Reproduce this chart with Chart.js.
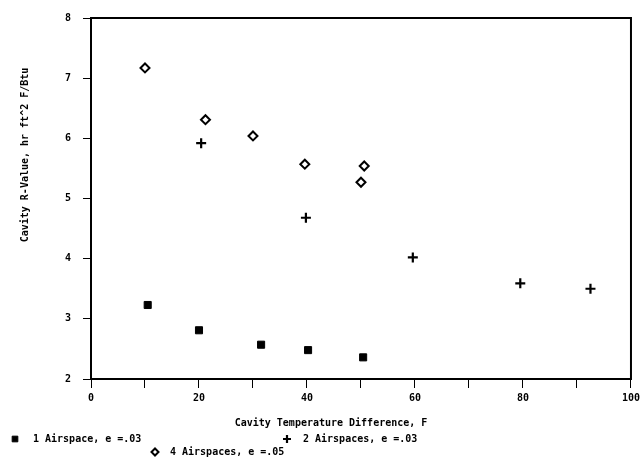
<!DOCTYPE html>
<html>
<head>
<meta charset="utf-8">
<script src="https://cdn.jsdelivr.net/npm/chart.js@4"></script>
<style>
  html, body { margin: 0; padding: 0; background: #fff; }
  #wrap { width: 644px; height: 464px; position: relative; }
</style>
</head>
<body>
<div id="wrap"><canvas id="rvalueChart"></canvas></div>
<script>
// --- data ---
const oneSpaceX = [10.5, 20.0, 31.5, 40.2, 50.4];
const oneSpaceY = [3.23, 2.81, 2.57, 2.48, 2.36];
const twoSpaceX = [20.4, 39.8, 59.6, 79.5, 92.5];
const twoSpaceY = [5.92, 4.68, 4.02, 3.59, 3.50];
const fourSpaceX = [10.0, 21.2, 30.0, 39.6, 50.6, 50.0];
const fourSpaceY = [7.17, 6.31, 6.04, 5.57, 5.54, 5.27];

const seriesLabels = ['1 Airspace, e =.03', '2 Airspaces, e =.03', '4 Airspaces, e =.05'];
const xTitle = 'Cavity Temperature Difference, F';
const yTitle = 'Cavity R-Value, hr ft^2 F/Btu';
const xRange = [0, 100];
const yRange = [2, 8];

const FONT = 'bold 10px "DejaVu Sans Mono", monospace';

function toPoints(xs, ys) {
      return xs.map((x, i) => ({ x: x, y: ys[i] }));
}

// marker looks, shared by the plot and the legend
const markers = [
      { pointStyle: 'rect', radius: 5, borderWidth: 1, borderColor: '#000', backgroundColor: '#000' },
      { pointStyle: 'cross', radius: 5, borderWidth: 2.2, borderColor: '#000', backgroundColor: '#000' },
      { pointStyle: 'rectRot', radius: 4.5, borderWidth: 2, borderColor: '#000', backgroundColor: '#fff' }
];

function makeDataset(label, xs, ys, m) {
      return {
            label: label,
            data: toPoints(xs, ys),
            pointStyle: m.pointStyle,
            pointRadius: m.radius,
            pointBorderWidth: m.borderWidth,
            pointBorderColor: m.borderColor,
            pointBackgroundColor: m.backgroundColor,
            showLine: false
      };
}

// frame, axis titles and the hand placed legend
const decorPlugin = {
      id: 'decor',
      afterDraw(chart) {
            const ctx = chart.ctx;
            const a = chart.chartArea;
            ctx.save();
            ctx.strokeStyle = '#000';
            ctx.lineWidth = 2;
            ctx.strokeRect(a.left, a.top, a.right - a.left, a.bottom - a.top);

            ctx.fillStyle = '#000';
            ctx.font = FONT;
            ctx.textBaseline = 'middle';

            // x title
            ctx.textAlign = 'center';
            ctx.fillText(xTitle, 331, 423);

            // y title (rotated)
            ctx.save();
            ctx.translate(25, 155);
            ctx.rotate(-Math.PI / 2);
            ctx.fillText(yTitle, 0, 0);
            ctx.restore();

            // legend
            const spots = [
                  { mx: 15, tx: 33, y: 439 },
                  { mx: 287, tx: 303, y: 439 },
                  { mx: 155, tx: 170, y: 452 }
            ];
            ctx.textAlign = 'left';
            spots.forEach((s, i) => {
                  const m = markers[i];
                  ctx.fillStyle = m.backgroundColor;
                  ctx.strokeStyle = m.borderColor;
                  ctx.lineWidth = m.borderWidth;
                  Chart.helpers.drawPoint(ctx, { pointStyle: m.pointStyle, radius: m.radius - 1, rotation: 0, borderWidth: m.borderWidth }, s.mx, s.y);
                  ctx.fillStyle = '#000';
                  ctx.fillText(seriesLabels[i], s.tx, s.y);
            });
            ctx.restore();
      }
};

const ctx = document.getElementById('rvalueChart').getContext('2d');

new Chart(ctx, {
      type: 'scatter',
      data: {
            datasets: [
                  makeDataset(seriesLabels[0], oneSpaceX, oneSpaceY, markers[0]),
                  makeDataset(seriesLabels[1], twoSpaceX, twoSpaceY, markers[1]),
                  makeDataset(seriesLabels[2], fourSpaceX, fourSpaceY, markers[2])
            ]
      },
      options: {
            responsive: true,
            maintainAspectRatio: false,
            animation: false,
            layout: { padding: { top: 17, right: 11, left: 0, bottom: 0 } },
            scales: {
                  x: {
                        type: 'linear',
                        min: xRange[0],
                        max: xRange[1],
                        afterFit(scale) { scale.height = 85; },
                        ticks: {
                              stepSize: 10,
                              padding: 4,
                              color: '#000',
                              font: { family: '"DejaVu Sans Mono", monospace', size: 10, weight: 'bold' },
                              callback: v => (v % 20 === 0 ? v : '')
                        },
                        grid: { drawOnChartArea: false, tickLength: 9, color: '#000', lineWidth: 1 },
                        border: { color: '#000', width: 2 }
                  },
                  y: {
                        min: yRange[0],
                        max: yRange[1],
                        afterFit(scale) { scale.width = 91; },
                        ticks: {
                              stepSize: 1,
                              padding: 12,
                              color: '#000',
                              font: { family: '"DejaVu Sans Mono", monospace', size: 10, weight: 'bold' }
                        },
                        grid: { drawOnChartArea: false, tickLength: 8, color: '#000', lineWidth: 1 },
                        border: { color: '#000', width: 2 }
                  }
            },
            plugins: {
                  legend: { display: false },
                  tooltip: { enabled: false }
            }
      },
      plugins: [decorPlugin]
});
</script>
</body>
</html>
